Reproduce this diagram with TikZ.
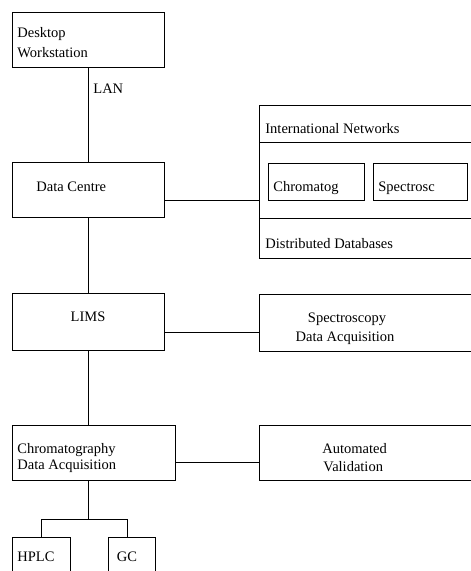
\documentclass[tikz,border=0pt]{standalone}
\usepackage{fontspec}
\setmainfont{Liberation Serif}
\begin{document}
\begin{tikzpicture}[x=1pt,y=-1pt,line width=0.8pt,
  box/.style={draw,rectangle,inner sep=0pt,anchor=north west},
  txt/.style={inner sep=0pt,font=\fontsize{14.5}{17}\selectfont},
  conn/.style={draw,line width=0.8pt}]
\useasboundingbox (0,0) rectangle (471,571);
\clip (0,0) rectangle (471,571);
% boxes
\node[box,minimum width=152pt,minimum height=55pt] (dw) at (12,12) {};
\node[box,minimum width=152pt,minimum height=55pt] (dc) at (12,162) {};
\node[box,minimum width=230pt,minimum height=37pt] (nettop) at (259,105) {};
\node[box,minimum width=230pt,minimum height=76pt] (netmid) at (259,142) {};
\node[box,minimum width=230pt,minimum height=40pt] (netbot) at (259,218) {};
\node[box,minimum width=96pt,minimum height=37pt] (chr) at (268,163) {};
\node[box,minimum width=94pt,minimum height=37pt] (spc) at (373,163) {};
\node[box,minimum width=152pt,minimum height=57pt] (lims) at (12,293) {};
\node[box,minimum width=230pt,minimum height=57pt] (spec) at (259,294) {};
\node[box,minimum width=163pt,minimum height=55pt] (chrom) at (12,425) {};
\node[box,minimum width=230pt,minimum height=55pt] (av) at (259,425) {};
\node[box,minimum width=58pt,minimum height=50pt] (hplc) at (12,537) {};
\node[box,minimum width=47pt,minimum height=50pt] (gc) at (108,537) {};
% texts
\node[txt,anchor=base west] (t1) at (17,37.5) {Desktop};
\node[txt,anchor=base west] (t2) at (17,57.5) {Workstation};
\node[txt,anchor=base west] (lan) at (93,93.5) {LAN};
\node[txt,anchor=base west] (t3) at (36,191.5) {Data Centre};
\node[txt,anchor=base west] (t4) at (265,133.5) {International Networks};
\node[txt,anchor=base west] (t5) at (273,191.5) {Chromatog};
\node[txt,anchor=base west] (t6) at (378,191.5) {Spectrosc};
\node[txt,anchor=base west] (t7) at (265,248.5) {Distributed Databases};
\node[txt,anchor=base] (t8) at (88,321.5) {LIMS};
\node[txt,anchor=base] (t9) at (347,322.5) {Spectroscopy};
\node[txt,anchor=base] (t10) at (345,341.5) {Data Acquisition};
\node[txt,anchor=base west] (t11) at (17,453.5) {Chromatography};
\node[txt,anchor=base west] (t12) at (17,469.5) {Data Acquisition};
\node[txt,anchor=base west] (t13) at (322,453.5) {Automated};
\node[txt,anchor=base west] (t14) at (323,471.5) {Validation};
\node[txt,anchor=base west] (t15) at (17,561.5) {HPLC};
\node[txt,anchor=base] (t16) at (127,561.5) {GC};
% connectors
\draw (dw) -- (dc);
\draw (dc.east |- chr.south) -- (netmid.west |- chr.south);
\draw (dc) -- (lims);
\draw ([yshift=-10.5pt]lims.east) -- ([yshift=-10.5pt]lims.east -| spec.west);
\draw (lims.south) -- (lims.south |- chrom.north);
\draw ([yshift=-9.5pt]chrom.east) -- ([yshift=-9.5pt]chrom.east -| av.west);
\coordinate (j) at ([yshift=-39pt]lims.south |- chrom.south);
\draw (lims.south |- chrom.south) -- (j);
\draw (hplc.north) |- (j);
\draw (j) -| ([xshift=-4.5pt]gc.north);
\end{tikzpicture}
\end{document}
